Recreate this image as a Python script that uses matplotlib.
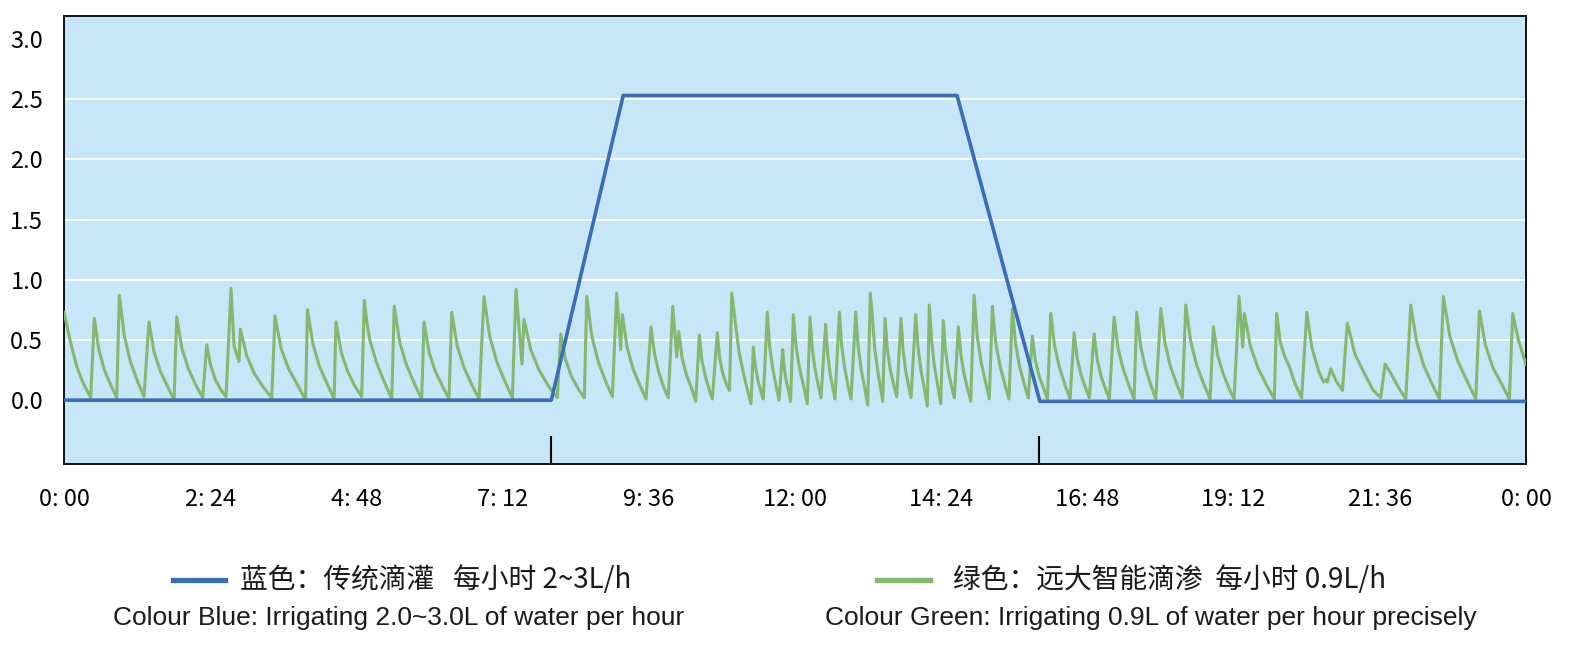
import matplotlib
matplotlib.use("Agg")
import matplotlib.pyplot as plt
from matplotlib.lines import Line2D

# --- Data ---
# blue: traditional drip irrigation (hours, L/h)
blue_hours = [0, 8, 9.18, 14.66, 16.02, 24]
blue_vals = [0, 0, 2.53, 2.53, -0.01, -0.01]

# green: smart drip, sawtooth pulses (minutes, L/h)
green_min = [
    0, 5.9, 12.5, 19.0, 26.3,
    29.8, 34.3, 39.8, 46.4, 51.9,
    54.5, 59.3, 65.4, 72.7, 78.8,
    83.7, 88.7, 94.9, 102.2, 108.4,
    111.0, 116.1, 122.5, 130.2, 136.6,
    140.6, 144.4, 149.1, 154.9, 159.6,
    164.5, 167.5, 172.4, 173.7, 179.9, 187.5, 196.9, 204.6,
    207.8, 213.8, 221.3, 230.4, 237.9,
    239.8, 245.1, 251.6, 259.5, 266.0,
    267.9, 273.0, 279.3, 286.9, 293.2,
    295.8, 298.2, 301.2, 307.9, 316.1, 322.8,
    325.3, 330.7, 337.4, 345.6, 352.3,
    354.6, 359.5, 365.7, 373.1, 379.2,
    381.9, 387.3, 394.0, 402.1, 408.8,
    413.7, 419.3, 426.2, 434.6, 441.6,
    445.2, 451.1, 453.1, 459.7, 467.9, 477.7, 485.9,
    489.3, 493.9, 499.7, 506.7, 512.5,
    514.9, 519.9, 526.2, 533.8, 540.1,
    544.4, 548.3, 549.9, 554.6, 560.5, 567.4, 573.3,
    578.2, 581.7, 585.9, 591.0, 595.2,
    599.6, 603.5, 605.5, 608.8, 613.1, 618.1, 622.2,
    625.8, 628.3, 631.6, 635.3, 638.6,
    643.5, 645.8, 648.9, 652.5, 655.5,
    657.7, 661.6, 664.9, 669.3, 673.3, 676.7,
    679.0, 680.9, 683.6, 686.5, 688.8,
    692.7, 695.0, 697.9, 701.3, 704.3,
    707.9, 709.5, 711.4, 713.8, 715.7,
    718.4, 721.1, 724.6, 728.7, 732.1,
    734.8, 737.0, 739.7, 743.0, 745.6,
    750.2, 752.1, 754.4, 757.1, 759.4,
    763.7, 766.0, 768.9, 772.2, 775.2,
    779.8, 782.2, 785.1, 788.7, 791.6,
    794.2, 796.2, 798.6, 801.6, 804.3, 806.4,
    808.7, 811.0, 813.9, 817.4, 820.2,
    824.4, 826.4, 828.9, 831.8, 834.3,
    838.9, 841.2, 844.0, 847.5, 850.3,
    852.3, 854.6, 857.3, 860.8, 863.5,
    866.1, 868.3, 871.0, 874.3, 876.9,
    880.9, 883.4, 886.4, 890.1, 893.1,
    896.4, 899.4, 903.2, 907.7, 911.4,
    914.4, 917.6, 921.8, 926.7, 930.8,
    934.1, 937.2, 941.2, 945.9, 949.8,
    953.8, 956.7, 960.4, 964.8, 968.6,
    971.9, 975.7, 980.5, 986.2, 990.9,
    994.9, 997.9, 1001.7, 1006.2, 1009.9,
    1014.6, 1017.6, 1021.4, 1025.9, 1029.6,
    1034.3, 1038.2, 1043.2, 1049.0, 1054.0,
    1056.6, 1060.4, 1065.1, 1070.7, 1075.3,
    1080.3, 1084.5, 1089.8, 1096.2, 1101.5,
    1104.9, 1109.7, 1115.6, 1122.8, 1128.8,
    1132.1, 1136.1, 1141.3, 1147.4, 1152.5,
    1157.4, 1161.0, 1162.6, 1168.5, 1175.9, 1184.8, 1192.1,
    1194.4, 1198.0, 1202.0, 1206.9, 1212.8, 1219.0,
    1224.1, 1229.0, 1235.5, 1240.5, 1242.8, 1244.4, 1247.7, 1253.0, 1259.2,
    1264.0, 1271.6, 1281.5, 1289.6, 1296.9,
    1301.2, 1307.8, 1314.0, 1321.6,
    1326.5, 1332.1, 1339.2, 1347.7, 1354.7,
    1358.6, 1365.0, 1373.0, 1382.5, 1390.5,
    1394.1, 1400.0, 1407.4, 1416.3, 1423.6,
    1426.9, 1432.5, 1439.8,
]
green_vals = [
    0.73, 0.50, 0.28, 0.14, 0.02,
    0.68, 0.42, 0.25, 0.12, 0.02,
    0.87, 0.54, 0.32, 0.15, 0.03,
    0.65, 0.40, 0.24, 0.11, 0.00,
    0.69, 0.43, 0.26, 0.12, 0.02,
    0.46, 0.29, 0.17, 0.08, 0.03,
    0.93, 0.45, 0.32, 0.59, 0.37, 0.22, 0.10, 0.02,
    0.70, 0.43, 0.26, 0.12, 0.00,
    0.75, 0.47, 0.28, 0.13, 0.01,
    0.65, 0.40, 0.24, 0.11, 0.03,
    0.83, 0.65, 0.50, 0.31, 0.14, 0.01,
    0.78, 0.48, 0.29, 0.13, 0.01,
    0.65, 0.40, 0.24, 0.11, 0.01,
    0.73, 0.45, 0.27, 0.12, 0.01,
    0.86, 0.53, 0.32, 0.15, 0.02,
    0.92, 0.30, 0.67, 0.42, 0.25, 0.11, 0.02,
    0.55, 0.34, 0.20, 0.09, 0.02,
    0.86, 0.53, 0.32, 0.15, 0.03,
    0.89, 0.42, 0.71, 0.44, 0.26, 0.12, 0.01,
    0.61, 0.38, 0.23, 0.10, 0.02,
    0.78, 0.36, 0.57, 0.35, 0.21, 0.10, -0.01,
    0.54, 0.33, 0.20, 0.09, 0.01,
    0.56, 0.35, 0.22, 0.13, 0.08,
    0.89, 0.62, 0.40, 0.22, 0.08, -0.03,
    0.44, 0.28, 0.16, 0.07, 0.01,
    0.73, 0.45, 0.27, 0.12, 0.00,
    0.42, 0.26, 0.16, 0.07, -0.01,
    0.71, 0.44, 0.26, 0.11, -0.03,
    0.69, 0.43, 0.26, 0.12, 0.02,
    0.63, 0.39, 0.23, 0.11, 0.01,
    0.73, 0.45, 0.27, 0.12, 0.01,
    0.73, 0.45, 0.26, 0.10, -0.04,
    0.89, 0.69, 0.42, 0.24, 0.10, -0.01,
    0.68, 0.42, 0.25, 0.12, 0.03,
    0.68, 0.42, 0.25, 0.12, 0.02,
    0.71, 0.44, 0.25, 0.09, -0.05,
    0.79, 0.49, 0.28, 0.11, -0.03,
    0.66, 0.41, 0.24, 0.11, 0.02,
    0.61, 0.38, 0.22, 0.09, -0.01,
    0.87, 0.54, 0.32, 0.15, 0.01,
    0.78, 0.48, 0.29, 0.13, 0.01,
    0.76, 0.47, 0.28, 0.13, 0.02,
    0.53, 0.33, 0.20, 0.10, 0.01,
    0.72, 0.45, 0.27, 0.12, 0.01,
    0.56, 0.35, 0.21, 0.10, 0.02,
    0.55, 0.34, 0.20, 0.09, 0.01,
    0.69, 0.43, 0.26, 0.12, 0.01,
    0.73, 0.45, 0.27, 0.12, 0.01,
    0.76, 0.47, 0.28, 0.13, 0.02,
    0.79, 0.49, 0.29, 0.13, 0.01,
    0.61, 0.38, 0.23, 0.10, 0.01,
    0.86, 0.44, 0.72, 0.45, 0.27, 0.12, 0.01,
    0.72, 0.48, 0.37, 0.28, 0.13, 0.02,
    0.73, 0.44, 0.25, 0.15, 0.17, 0.15, 0.26, 0.16, 0.08,
    0.64, 0.38, 0.21, 0.08, 0.02,
    0.30, 0.21, 0.11, 0.01,
    0.79, 0.49, 0.29, 0.13, 0.01,
    0.86, 0.53, 0.32, 0.15, 0.01,
    0.74, 0.46, 0.27, 0.13, 0.01,
    0.72, 0.50, 0.30,
]
green_hours = [m / 60 for m in green_min]

x_ticks = [0, 2.4, 4.8, 7.2, 9.6, 12, 14.4, 16.8, 19.2, 21.6, 24]
x_labels = ["0: 00", "2: 24", "4: 48", "7: 12", "9: 36", "12: 00",
            "14: 24", "16: 48", "19: 12", "21: 36", "0: 00"]
y_ticks = [0.0, 0.5, 1.0, 1.5, 2.0, 2.5, 3.0]
marks = [8, 16]  # start / end of traditional irrigation

blue = "#3b6db5"
green = "#84b76f"
bg = "#c7e7f8"
cjk = ["Noto Sans CJK SC", "DejaVu Sans"]

# --- Plot ---
fig = plt.figure(figsize=(15.69, 6.5), dpi=100)
ax = fig.add_axes([64 / 1569, 186 / 650, 1462 / 1569, 448 / 650])
ax.set_facecolor(bg)

for y in y_ticks[1:-1]:
    ax.axhline(y, color="white", lw=1.3, zorder=1)

ax.plot(green_hours, green_vals, color=green, lw=2.2, zorder=3)
ax.plot(blue_hours, blue_vals, color=blue, lw=2.6, zorder=4)
for m in marks:
    ax.axvline(m, ymin=0, ymax=0.06, color="black", lw=1.5, zorder=5)

ax.set_xlim(0, 24)
ax.set_ylim(-0.53, 3.19)
ax.set_xticks(x_ticks)
ax.set_xticklabels(x_labels, family=cjk, fontsize=17)
ax.set_yticks(y_ticks)
ax.set_yticklabels([f"{v:.1f}" for v in y_ticks], family=cjk, fontsize=17)
ax.tick_params(axis="x", length=0, pad=17)
ax.tick_params(axis="y", length=0, pad=15)
for s in ax.spines.values():
    s.set_color("black")
    s.set_linewidth(1.3)

# --- Legend (drawn by hand, two columns) ---
fig.add_artist(Line2D([173 / 1569, 225 / 1569], [1 - 580 / 650] * 2, color=blue, lw=3.8))
fig.text(240 / 1569, 1 - 580 / 650, "蓝色：传统滴灌   每小时 2~3L/h",
         ha="left", va="center", fontsize=20, family=cjk, color="#1a1a1a")
fig.text(399 / 1569, 1 - 618 / 650, "Colour Blue: Irrigating 2.0~3.0L of water per hour",
         ha="center", va="center", fontsize=19, family="Liberation Sans", color="#1a1a1a")

fig.add_artist(Line2D([877 / 1569, 930 / 1569], [1 - 580 / 650] * 2, color=green, lw=3.8))
fig.text(953 / 1569, 1 - 580 / 650, "绿色：远大智能滴渗  每小时 0.9L/h",
         ha="left", va="center", fontsize=20, family=cjk, color="#1a1a1a")
fig.text(1151 / 1569, 1 - 618 / 650, "Colour Green: Irrigating 0.9L of water per hour precisely",
         ha="center", va="center", fontsize=19, family="Liberation Sans", color="#1a1a1a")

fig.savefig("out.png", dpi=100)
